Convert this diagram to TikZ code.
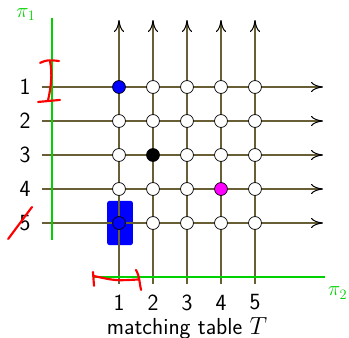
\documentclass[tikz,border=0pt]{standalone}
\usepackage{fontspec}
\usepackage{tikz}
\usetikzlibrary{arrows.meta}
\definecolor{gridbrown}{RGB}{105,95,55}
\definecolor{axisgreen}{RGB}{0,210,0}
\definecolor{cellblue}{RGB}{0,0,255}
\definecolor{cellmagenta}{RGB}{255,0,255}

\begin{document}
\begin{tikzpicture}[
    every node/.style={font=\fontsize{19.4}{23}\selectfont\sffamily,
        inner sep=0.5pt},
    cell/.style={circle, draw=black, fill=white, line width=0.6pt,
        minimum size=3.8mm, inner sep=0pt},
    gridline/.style={draw=gridbrown, line width=0.9pt,
        -{To[length=10pt, width=8.5pt, color=black]}},
    axis/.style={draw=axisgreen, line width=2.4pt},
    axislbl/.style={text=axisgreen, font=\LARGE},
    scribble/.style={draw=red, line width=1.8pt, line cap=round,
        line join=round},
    marker/.style={draw=none, fill=cellblue, rounded corners=2pt}
]
\useasboundingbox (-2.5,-8.382) rectangle (7.765,1.559);
% selected cell underneath
\fill[marker] (0.65,-4.35) rectangle (1.41,-5.65);
% rows
\coordinate (r1w) at (-1.26,-1); \coordinate (r1e) at (7.0,-1);
\coordinate (r2w) at (-1.26,-2); \coordinate (r2e) at (7.0,-2);
\coordinate (r3w) at (-1.26,-3); \coordinate (r3e) at (7.0,-3);
\coordinate (r4w) at (-1.26,-4); \coordinate (r4e) at (7.0,-4);
\coordinate (r5w) at (-1.26,-5); \coordinate (r5e) at (7.0,-5);
\draw[gridline] (r1w) -- (r1e);
\draw[gridline] (r2w) -- (r2e);
\draw[gridline] (r3w) -- (r3e);
\draw[gridline] (r4w) -- (r4e);
\draw[gridline] (r5w) -- (r5e);
% columns
\coordinate (c1s) at (1,-6.79); \coordinate (c1n) at (1,0.97);
\coordinate (c2s) at (2,-6.79); \coordinate (c2n) at (2,0.97);
\coordinate (c3s) at (3,-6.79); \coordinate (c3n) at (3,0.97);
\coordinate (c4s) at (4,-6.79); \coordinate (c4n) at (4,0.97);
\coordinate (c5s) at (5,-6.79); \coordinate (c5n) at (5,0.97);
\draw[gridline] (c1s) -- (c1n);
\draw[gridline] (c2s) -- (c2n);
\draw[gridline] (c3s) -- (c3n);
\draw[gridline] (c4s) -- (c4n);
\draw[gridline] (c5s) -- (c5n);
% cells
\node[cell, fill=cellblue] (n11) at (1,-1) {};
\node[cell] (n21) at (2,-1) {};
\node[cell] (n31) at (3,-1) {};
\node[cell] (n41) at (4,-1) {};
\node[cell] (n51) at (5,-1) {};
\node[cell] (n12) at (1,-2) {};
\node[cell] (n22) at (2,-2) {};
\node[cell] (n32) at (3,-2) {};
\node[cell] (n42) at (4,-2) {};
\node[cell] (n52) at (5,-2) {};
\node[cell] (n13) at (1,-3) {};
\node[cell, fill=black] (n23) at (2,-3) {};
\node[cell] (n33) at (3,-3) {};
\node[cell] (n43) at (4,-3) {};
\node[cell] (n53) at (5,-3) {};
\node[cell] (n14) at (1,-4) {};
\node[cell] (n24) at (2,-4) {};
\node[cell] (n34) at (3,-4) {};
\node[cell, fill=cellmagenta] (n44) at (4,-4) {};
\node[cell] (n54) at (5,-4) {};
\node[cell, fill=cellblue] (n15) at (1,-5) {};
\node[cell] (n25) at (2,-5) {};
\node[cell] (n35) at (3,-5) {};
\node[cell] (n45) at (4,-5) {};
\node[cell] (n55) at (5,-5) {};
% axes
\coordinate (ytop) at (-0.97,1.03);  \coordinate (ybot) at (-0.97,-5.5);
\coordinate (xleft) at (0.24,-6.59); \coordinate (xright) at (7.06,-6.59);
\draw[axis] (ytop) -- (ybot);
\draw[axis] (xleft) -- (xright);
\node[axislbl] (pi1) at (-1.74,1.12) {$\pi_1$};
\node[axislbl] (pi2) at (7.43,-7.06) {$\pi_2$};
% row and column numbers
\node (p1) at (-1.76,-1) {1};
\node (p2) at (-1.76,-2) {2};
\node (p3) at (-1.76,-3) {3};
\node (p4) at (-1.76,-4) {4};
\node (p5) at (-1.76,-5) {5};
\node (q1) at (1,-7.34) {1};
\node (q2) at (2,-7.34) {2};
\node (q3) at (3,-7.34) {3};
\node (q4) at (4,-7.34) {4};
\node (q5) at (5,-7.34) {5};
\node (title) at (3,-8.11) {matching table $T$};
% red marks
\draw[scribble] (-1.32,-0.29) .. controls (-1.1,-0.2) .. (-0.765,-0.235);
\draw[scribble] (-1.03,-0.235) .. controls (-0.95,-0.6) and (-1.0,-1.0) .. (-1.09,-1.41);
\draw[scribble] (-1.38,-1.44) -- (-0.735,-1.38);
\draw[scribble] (0.235,-6.44) -- (0.265,-6.85);
\draw[scribble] (0.265,-6.56) .. controls (0.9,-6.7) .. (1.59,-6.66);
\draw[scribble] (1.5,-6.38) .. controls (1.62,-6.6) and (1.6,-6.8) .. (1.65,-6.97);
\draw[scribble] (-2.26,-5.47) -- (-1.56,-4.53);
\end{tikzpicture}
\end{document}
